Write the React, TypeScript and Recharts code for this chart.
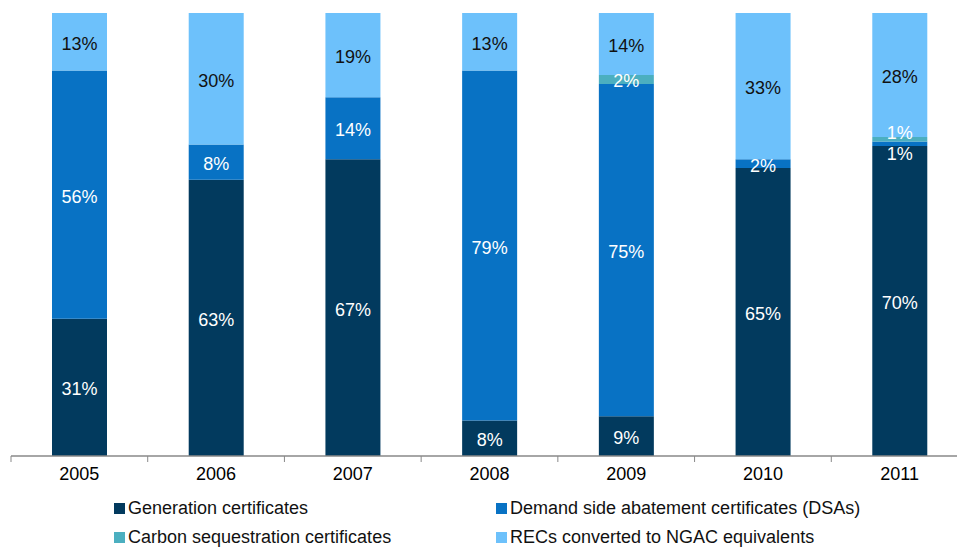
import React from 'react';
import { BarChart, Bar, XAxis, YAxis, LabelList } from 'recharts';

const years = ['2005', '2006', '2007', '2008', '2009', '2010', '2011'];
const generation = [31, 63, 67, 8, 9, 65, 70];
const dsa = [56, 8, 14, 79, 75, 2, 1];
const carbon = [0, 0, 0, 0, 2, 0, 1];
const recs = [13, 30, 19, 13, 14, 33, 28];

const seriesNames = [
  'Generation certificates',
  'Demand side abatement certificates (DSAs)',
  'Carbon sequestration certificates',
  'RECs converted to NGAC equivalents',
];

const COLORS = {
  gen: '#023A5E',
  dsa: '#0872C4',
  carbon: '#4BAFC0',
  recs: '#6DC1FB',
};

const FONT = '"Liberation Sans", Arial, sans-serif';
const CHART_W = 968;
const CHART_H = 556;
const LEFT = 11;
const TOP = 13;
const AXIS_H = 100;
const PLOT_BOTTOM = CHART_H - AXIS_H;
const BAND = (CHART_W - LEFT) / years.length;

const data = years.map((year, i) => ({
  year,
  gen: generation[i],
  dsa: dsa[i],
  carbon: carbon[i],
  recs: recs[i],
}));

const makeLabel = (key: string, color: string) => (props: any) => {
  const { x, y, width, height, value } = props;
  if (!value) return null;
  const cx = Number(x) + Number(width) / 2;
  const i = Math.round((cx - LEFT - BAND / 2) / BAND);
  const h = Math.abs(Number(height));
  const top = Number(height) < 0 ? Number(y) + Number(height) : Number(y);
  let cy = top + h / 2 + 2;
  if (key === 'carbon' && dsa[i] < 3) cy -= 8;
  if (key === 'dsa' && carbon[i] > 0 && dsa[i] < 3) cy += 8;
  return (
    <text
      x={cx}
      y={cy}
      textAnchor="middle"
      dominantBaseline="central"
      fill={color}
      fontSize={18}
      fontFamily={FONT}
    >
      {value}%
    </text>
  );
};

const Tick = (props: any) => {
  const { x, payload, index } = props;
  return (
    <g>
      <line x1={x - BAND / 2} y1={PLOT_BOTTOM} x2={x - BAND / 2} y2={PLOT_BOTTOM + 6} stroke="#898989" strokeWidth={1} />
      {index === years.length - 1 && (
        <line x1={x + BAND / 2} y1={PLOT_BOTTOM} x2={x + BAND / 2} y2={PLOT_BOTTOM + 6} stroke="#898989" strokeWidth={1} />
      )}
      <text x={x} y={PLOT_BOTTOM + 24} textAnchor="middle" fill="#000" fontSize={18} fontFamily={FONT}>
        {payload.value}
      </text>
    </g>
  );
};

const legendItems = [
  { name: seriesNames[0], color: COLORS.gen, left: 114, top: 502 },
  { name: seriesNames[1], color: COLORS.dsa, left: 496, top: 502 },
  { name: seriesNames[2], color: COLORS.carbon, left: 114, top: 531 },
  { name: seriesNames[3], color: COLORS.recs, left: 496, top: 531 },
];

export default function App() {
  return (
    <div style={{ position: 'absolute', left: 0, top: 0, width: 957, height: 556, overflow: 'hidden', background: '#fff', fontFamily: FONT }}>
      <BarChart
        width={CHART_W}
        height={CHART_H}
        data={data}
        stackOffset="expand"
        barSize={55}
        margin={{ top: TOP, right: 0, left: LEFT, bottom: 0 }}
      >
        <XAxis
          dataKey="year"
          height={AXIS_H}
          axisLine={{ stroke: '#898989', strokeWidth: 1.5 }}
          tickLine={false}
          tick={<Tick />}
          interval={0}
        />
        <YAxis hide domain={[0, 1]} />
        <Bar dataKey="gen" stackId="a" fill={COLORS.gen} isAnimationActive={false}>
          <LabelList dataKey="gen" content={makeLabel('gen', '#ffffff')} />
        </Bar>
        <Bar dataKey="dsa" stackId="a" fill={COLORS.dsa} isAnimationActive={false}>
          <LabelList dataKey="dsa" content={makeLabel('dsa', '#ffffff')} />
        </Bar>
        <Bar dataKey="carbon" stackId="a" fill={COLORS.carbon} isAnimationActive={false}>
          <LabelList dataKey="carbon" content={makeLabel('carbon', '#ffffff')} />
        </Bar>
        <Bar dataKey="recs" stackId="a" fill={COLORS.recs} isAnimationActive={false}>
          <LabelList dataKey="recs" content={makeLabel('recs', '#111111')} />
        </Bar>
      </BarChart>
      {legendItems.map((it) => (
        <div
          key={it.name}
          style={{ position: 'absolute', left: it.left, top: it.top - 4, display: 'flex', alignItems: 'center', whiteSpace: 'nowrap', fontSize: 18, color: '#111', lineHeight: '20px' }}
        >
          <span style={{ display: 'inline-block', width: 11, height: 11, background: it.color, marginRight: 3 }} />
          <span>{it.name}</span>
        </div>
      ))}
    </div>
  );
}
